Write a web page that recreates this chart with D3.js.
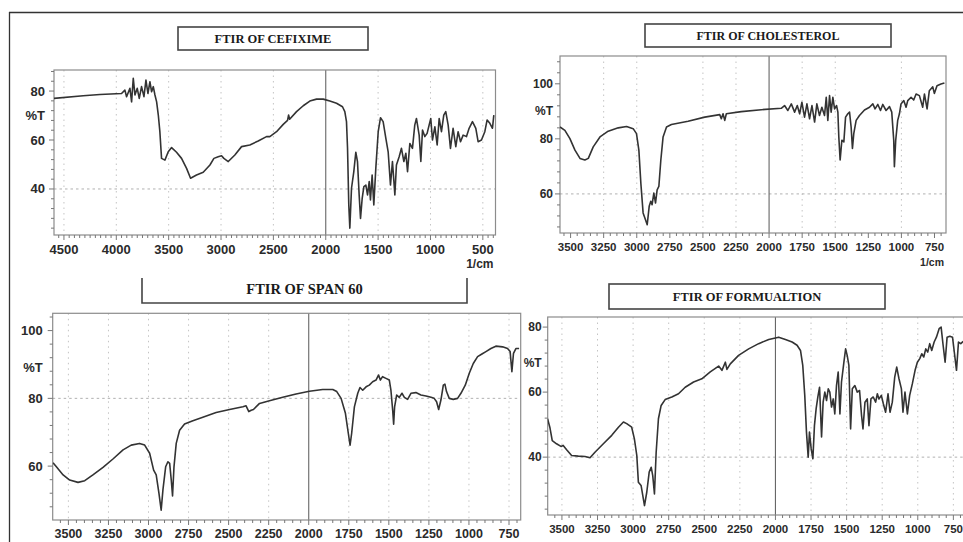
<!DOCTYPE html>
<html><head><meta charset="utf-8">
<script src="https://cdn.jsdelivr.net/npm/d3@7"></script>
<style>
html,body{margin:0;padding:0;background:#fff;}
svg{display:block;}
</style></head>
<body>
<svg id="chart" width="963" height="542"></svg>
<script>
// ---------- DATA (wavenumber cm-1, %T) ----------
const cefiximeSpectrum = [[4595,77.0],[4316,78.1],[4156,78.6],[3950,79.0],[3918,80.4],[3902,77.7],[3870,81.1],[3854,75.6],[3838,85.2],[3822,78.4],[3800,81.1],[3781,77.0],[3759,81.8],[3736,77.7],[3717,84.5],[3698,79.0],[3679,83.8],[3663,79.7],[3647,81.8],[3631,78.4],[3615,75.6],[3599,70.2],[3584,63.4],[3568,52.5],[3536,51.8],[3504,55.2],[3472,56.9],[3425,55.0],[3377,52.5],[3329,48.4],[3291,44.4],[3234,45.7],[3170,46.8],[3106,49.8],[3068,52.5],[3027,53.2],[2995,53.6],[2973,52.5],[2931,51.2],[2868,53.9],[2804,57.3],[2725,58.0],[2645,59.6],[2566,61.4],[2534,61.4],[2470,63.4],[2406,66.4],[2365,68.0],[2355,70.2],[2345,68.5],[2279,71.6],[2215,74.0],[2152,75.9],[2088,76.7],[2024,76.7],[1961,75.9],[1897,75.0],[1840,73.6],[1818,71.6],[1802,67.5],[1792,56.6],[1780,33.5],[1770,24.0],[1754,40.3],[1732,47.1],[1713,55.0],[1697,51.2],[1681,37.6],[1668,28.0],[1652,36.2],[1636,41.0],[1617,41.6],[1601,37.6],[1585,43.0],[1573,35.5],[1557,45.7],[1541,33.5],[1522,48.4],[1499,63.4],[1477,69.1],[1452,67.5],[1426,60.7],[1404,55.2],[1382,41.6],[1363,51.2],[1340,37.6],[1325,49.8],[1299,53.2],[1277,56.6],[1254,51.2],[1235,54.6],[1219,47.1],[1197,58.6],[1172,56.6],[1150,66.1],[1134,68.8],[1108,62.0],[1092,51.2],[1076,64.1],[1054,61.4],[1032,62.7],[1013,66.1],[997,68.8],[981,60.0],[958,65.4],[936,58.0],[917,68.8],[895,63.4],[873,70.2],[854,71.6],[831,66.1],[809,56.6],[784,64.8],[758,57.3],[736,63.4],[713,59.3],[688,62.0],[656,61.4],[631,64.8],[599,67.5],[567,64.8],[545,59.3],[513,60.0],[481,63.4],[459,68.2],[433,66.8],[408,64.8],[395,70.2]];

const cholesterolSpectrum = [[3580,84.3],[3543,83.1],[3505,80.1],[3467,75.9],[3429,72.9],[3392,72.3],[3366,72.9],[3329,77.1],[3278,80.7],[3216,82.8],[3140,84.0],[3077,84.5],[3027,83.7],[3002,81.9],[2984,75.9],[2969,63.9],[2952,53.1],[2934,50.6],[2921,48.8],[2906,55.5],[2894,57.3],[2884,56.1],[2871,60.3],[2858,56.7],[2846,61.5],[2833,62.7],[2818,72.3],[2801,80.7],[2775,84.3],[2738,85.2],[2612,86.4],[2486,87.9],[2373,88.8],[2361,87.3],[2348,89.1],[2335,86.7],[2323,89.1],[2210,89.9],[2059,90.6],[1908,91.1],[1883,92.1],[1858,90.3],[1832,92.7],[1807,89.7],[1787,92.1],[1769,89.1],[1752,93.3],[1732,87.9],[1714,92.7],[1694,87.3],[1676,92.1],[1656,86.1],[1639,92.7],[1619,88.5],[1601,91.5],[1581,88.5],[1568,95.1],[1556,86.7],[1543,95.7],[1531,89.7],[1518,95.1],[1505,90.9],[1490,92.1],[1480,89.7],[1473,80.7],[1463,72.3],[1450,79.5],[1435,78.9],[1422,87.9],[1405,89.1],[1392,89.7],[1380,84.3],[1370,76.5],[1360,81.9],[1342,86.7],[1317,88.5],[1279,90.5],[1241,91.5],[1216,92.7],[1199,90.9],[1178,92.5],[1158,90.3],[1141,92.5],[1116,90.3],[1090,91.7],[1073,89.7],[1058,79.5],[1053,69.9],[1043,79.5],[1028,86.7],[1015,89.1],[1003,92.7],[982,93.9],[965,91.5],[952,93.9],[927,95.1],[907,94.1],[889,96.3],[864,95.7],[839,91.5],[826,96.3],[806,90.9],[789,97.5],[763,98.9],[751,96.5],[731,99.3],[701,99.9],[675,100.3]];

const span60Spectrum = [[3596,61.0],[3575,59.8],[3533,57.4],[3492,55.9],[3440,55.2],[3398,55.7],[3347,57.4],[3284,59.6],[3222,62.1],[3159,64.8],[3108,66.2],[3056,66.7],[3024,66.2],[2993,63.8],[2968,58.8],[2952,57.4],[2935,52.0],[2921,47.0],[2910,53.0],[2893,59.8],[2879,61.3],[2868,60.8],[2858,55.9],[2850,51.2],[2841,59.8],[2827,66.7],[2806,70.6],[2775,72.4],[2723,73.4],[2661,74.4],[2578,75.8],[2494,76.7],[2411,77.5],[2391,77.8],[2374,76.1],[2359,76.5],[2345,76.7],[2307,78.5],[2245,79.3],[2162,80.3],[2079,81.3],[1996,82.1],[1913,82.6],[1850,82.6],[1825,82.0],[1798,80.0],[1771,75.6],[1753,69.7],[1742,66.2],[1732,69.7],[1715,77.5],[1694,81.5],[1680,83.2],[1663,82.4],[1642,83.4],[1622,83.9],[1601,84.9],[1580,85.4],[1564,86.9],[1553,85.4],[1539,86.4],[1518,85.9],[1497,85.4],[1487,82.4],[1476,76.5],[1470,72.4],[1464,77.5],[1451,81.0],[1435,80.3],[1418,81.5],[1403,80.3],[1383,79.7],[1362,81.5],[1331,81.7],[1300,81.0],[1268,80.7],[1237,80.3],[1217,80.0],[1202,79.0],[1189,76.7],[1175,79.5],[1160,83.9],[1150,84.2],[1140,82.0],[1123,80.0],[1098,79.7],[1071,80.0],[1050,81.5],[1023,83.9],[998,87.4],[973,90.3],[946,92.3],[919,93.1],[894,93.8],[863,94.7],[832,95.4],[790,95.2],[759,94.7],[743,93.8],[732,87.9],[722,93.3],[707,94.7],[687,94.7]];

const formulationSpectrum = [[3601,51.8],[3585,49.2],[3568,45.1],[3538,44.1],[3507,43.3],[3491,43.6],[3467,42.3],[3432,40.5],[3385,40.3],[3338,40.2],[3303,39.8],[3268,41.5],[3209,44.1],[3150,46.7],[3103,49.2],[3068,50.8],[3045,50.3],[3010,49.2],[2991,45.6],[2974,40.5],[2963,32.3],[2944,31.3],[2920,25.1],[2904,29.2],[2887,35.4],[2873,36.9],[2862,34.3],[2850,28.7],[2838,41.5],[2822,51.8],[2803,55.9],[2775,57.7],[2728,58.5],[2681,59.5],[2634,61.5],[2575,63.1],[2517,64.1],[2458,66.2],[2399,68.0],[2376,66.7],[2352,69.2],[2341,67.0],[2317,68.7],[2259,71.3],[2188,73.3],[2118,74.9],[2047,76.2],[1977,76.9],[1930,76.2],[1883,75.4],[1848,74.4],[1824,72.8],[1808,68.2],[1794,59.0],[1782,47.7],[1770,40.0],[1761,47.7],[1749,42.6],[1737,39.5],[1726,49.7],[1714,54.9],[1702,58.5],[1690,61.5],[1676,46.2],[1665,56.9],[1653,60.0],[1641,57.4],[1629,61.0],[1618,60.0],[1606,55.4],[1594,57.9],[1583,53.3],[1571,62.0],[1559,66.2],[1547,53.3],[1536,63.1],[1519,69.2],[1507,73.3],[1496,71.3],[1484,68.2],[1472,48.7],[1460,61.0],[1442,62.0],[1425,60.0],[1409,60.5],[1395,52.8],[1385,48.7],[1371,56.9],[1355,57.9],[1343,49.7],[1329,57.9],[1313,58.5],[1296,56.9],[1284,59.5],[1273,57.9],[1256,59.0],[1242,56.4],[1226,53.8],[1209,59.5],[1195,53.8],[1179,56.9],[1162,64.6],[1148,67.7],[1132,64.1],[1115,61.0],[1104,53.8],[1090,60.0],[1073,53.3],[1057,59.0],[1038,62.6],[1019,66.7],[1003,69.2],[986,70.3],[972,71.8],[958,70.8],[944,73.3],[930,72.3],[916,74.9],[902,72.8],[885,75.4],[869,76.9],[850,79.5],[836,80.0],[822,74.4],[808,69.2],[794,76.9],[775,77.2],[756,76.9],[742,71.8],[728,66.7],[714,75.4],[698,74.9],[681,75.6]];

const titles = ["FTIR OF CEFIXIME","FTIR OF CHOLESTEROL","FTIR OF SPAN 60","FTIR OF FORMUALTION"];
const cefiximeXTicks = [4500,4000,3500,3000,2500,2000,1500,1000,500];
const wideXTicks = [3500,3250,3000,2750,2500,2250,2000,1750,1500,1250,1000,750];
const cefiximeYTicks = [40,60,80];
const cholesterolYTicks = [60,80,100];
const span60YTicks = [60,80,100];
const formulationYTicks = [40,60,80];
const yAxisLabel = "%T";
const xUnitLabel = "1/cm";

// ---------- LAYOUT ----------
const panels = [
  {data:cefiximeSpectrum, title:titles[0], box:[54,70,495.5,235], xd:[4595,379], yd:[21.2,88.6],
   xt:cefiximeXTicks, yt:cefiximeYTicks, gridX:[4500,4000,3500,3000,2500,1500,1000,500], gridY:40, pctAt:70,
   tickFs:13, yLabFs:13, unit:true, titleKind:"box", tb:[178,27,190,23], titleFs:12.5, labOff:9},
  {data:cholesterolSpectrum, title:titles[1], box:[560,56,946,233], xd:[3580,663], yd:[45.8,110.1],
   xt:wideXTicks, yt:cholesterolYTicks, gridX:[3250,3000,2500,2250,1750,1500,1000], gridY:60, pctAt:90,
   tickFs:11.5, yLabFs:12, unit:true, titleKind:"box", tb:[645,24,246,23], titleFs:12, labOff:7},
  {data:span60Spectrum, title:titles[2], box:[52.7,313.3,520.7,520], xd:[3598,677], yd:[44.1,105.1],
   xt:wideXTicks, yt:span60YTicks, gridX:[3500,3250,3000,2750,2500,2250,1750,1500,1250,1000,750], gridY:80, pctAt:89,
   tickFs:12.5, yLabFs:13, unit:false, titleKind:"bracket", tb:[142,278,325,25], titleFs:14.5, labOff:10},
  {data:formulationSpectrum, title:titles[3], box:[547.7,317,975,515], xd:[3600,598], yd:[22.2,83.1],
   xt:wideXTicks, yt:formulationYTicks, gridX:[3500,3250,3000,2750,2500,2250,1750,1500,1250,1000,750], gridY:40, pctAt:69,
   tickFs:11.5, yLabFs:12, unit:false, titleKind:"box", tb:[609,284,276,25], titleFs:12.5, labOff:6}
];

const svg = d3.select("#chart");
svg.append("rect").attr("width",963).attr("height",542).attr("fill","#fff");

// outer border
svg.append("line").attr("x1",9).attr("y1",12.5).attr("x2",963).attr("y2",12.5).attr("stroke","#333").attr("stroke-width",1.3);
svg.append("line").attr("x1",9.5).attr("y1",12).attr("x2",9.5).attr("y2",542).attr("stroke","#333").attr("stroke-width",1.3);

const sans = "Liberation Sans, Arial, sans-serif";
const serif = "Liberation Serif, Times New Roman, serif";

panels.forEach((p,i)=>{
  const [L,T,R,B] = p.box;
  const x = d3.scaleLinear().domain(p.xd).range([L,R]);
  const y = d3.scaleLinear().domain(p.yd).range([B,T]);
  const g = svg.append("g");
  const clipId = "clip"+i;
  g.append("clipPath").attr("id",clipId).append("rect").attr("x",L).attr("y",T).attr("width",R-L).attr("height",B-T);

  // vertical dotted grid
  g.append("g").selectAll("line").data(p.gridX).join("line")
    .attr("x1",d=>x(d)).attr("x2",d=>x(d)).attr("y1",T).attr("y2",B)
    .attr("stroke","#c4c4c4").attr("stroke-width",1).attr("stroke-dasharray","1.5,4");
  // horizontal dashed grid
  g.append("line").attr("x1",L).attr("x2",R).attr("y1",y(p.gridY)).attr("y2",y(p.gridY))
    .attr("stroke","#b0b0b0").attr("stroke-width",1).attr("stroke-dasharray","2.5,3");
  // 2000 marker line
  g.append("line").attr("x1",x(2000)).attr("x2",x(2000)).attr("y1",T).attr("y2",B)
    .attr("stroke","#666").attr("stroke-width",1.1);

  // frame
  g.append("rect").attr("x",L).attr("y",T).attr("width",R-L).attr("height",B-T)
    .attr("fill","none").attr("stroke","#8c8c8c").attr("stroke-width",1.2);

  // x axis ticks (major + minor) and labels
  const xMin = Math.min(...p.xd), xMax = Math.max(...p.xd);
  const minorX = d3.range(Math.ceil(xMin/50)*50, xMax, 50);
  g.append("g").selectAll("line").data(minorX).join("line")
    .attr("x1",d=>x(d)).attr("x2",d=>x(d)).attr("y1",B).attr("y2",d=> p.xt.includes(d)?B+5:B+3)
    .attr("stroke","#777").attr("stroke-width",1);
  g.append("g").selectAll("text").data(p.xt).join("text")
    .attr("x",d=>x(d)).attr("y",B+14).attr("text-anchor","middle").attr("dominant-baseline","central")
    .attr("font-family",sans).attr("font-weight","bold").attr("font-size",p.tickFs).attr("fill","#2a2a2a")
    .text(d=>d);
  if(p.unit){
    g.append("text").attr("x",R-2).attr("y",B+29).attr("text-anchor","end").attr("dominant-baseline","central")
      .attr("font-family",sans).attr("font-weight","bold").attr("font-size",p.tickFs-1).attr("fill","#2a2a2a")
      .text(xUnitLabel);
  }

  // y axis ticks
  const yMin = p.yd[0], yMax = p.yd[1];
  const minorY = d3.range(Math.ceil(yMin/4)*4, yMax, 4);
  g.append("g").selectAll("line").data(minorY).join("line")
    .attr("x1",L).attr("x2",d=> p.yt.includes(d)?L-5:L-3).attr("y1",d=>y(d)).attr("y2",d=>y(d))
    .attr("stroke","#777").attr("stroke-width",1);
  g.append("g").selectAll("text").data(p.yt).join("text")
    .attr("x",L-p.labOff).attr("y",d=>y(d)).attr("text-anchor","end").attr("dominant-baseline","central")
    .attr("font-family",sans).attr("font-weight","bold").attr("font-size",p.yLabFs).attr("fill","#2a2a2a")
    .text(d=>d);
  g.append("text").attr("x",L-p.labOff).attr("y",y(p.pctAt)).attr("text-anchor","end").attr("dominant-baseline","central")
    .attr("font-family",sans).attr("font-weight","bold").attr("font-size",p.yLabFs).attr("fill","#2a2a2a")
    .text(yAxisLabel);

  // spectrum line
  const line = d3.line().x(d=>x(d[0])).y(d=>y(d[1]));
  g.append("path").datum(p.data).attr("d",line).attr("clip-path","url(#"+clipId+")")
    .attr("fill","none").attr("stroke","#333").attr("stroke-width",1.6).attr("stroke-linejoin","round");

  // title
  const [tx,ty,tw,th] = p.tb;
  if(p.titleKind==="box"){
    g.append("rect").attr("x",tx).attr("y",ty).attr("width",tw).attr("height",th)
      .attr("fill","#fff").attr("stroke","#444").attr("stroke-width",1.6);
  } else {
    g.append("path").attr("d",`M${tx},${ty} V${ty+th} H${tx+tw} V${ty}`)
      .attr("fill","none").attr("stroke","#444").attr("stroke-width",1.6);
  }
  g.append("text").attr("x",tx+tw/2).attr("y",ty+th/2+ (p.titleKind==="box"?0.5:-1.5)).attr("text-anchor","middle")
    .attr("dominant-baseline","central").attr("font-family",serif).attr("font-weight","bold")
    .attr("font-size",p.titleFs).attr("fill","#1a1a1a").text(p.title);
});
</script>
</body></html>
